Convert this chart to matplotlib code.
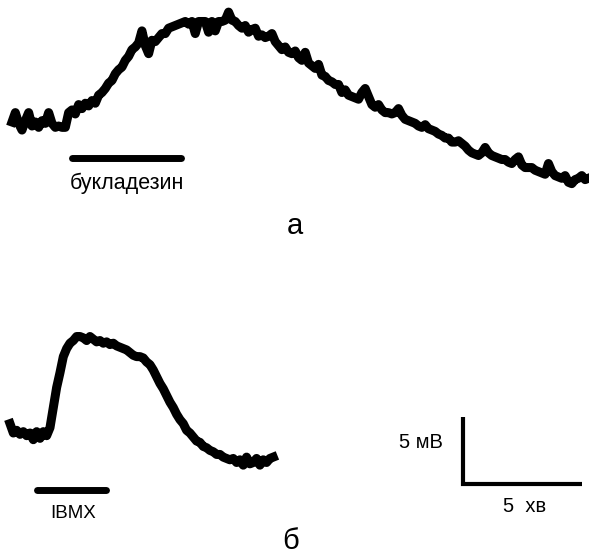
import numpy as np
import matplotlib.pyplot as plt

plt.rcParams['font.family'] = ['Liberation Sans', 'DejaVu Sans']

# --- membrane potential records ---
# sampling interval of both records, min
dt = 0.14

# record a: bucladesine, mV relative to resting level
v_a = [0.0, 0.7, -0.1, -0.6, 0.1, 0.7, -0.3, 0.0, -0.4, 0.1, -0.1, 0.7, -0.1, -0.4, -0.3, -0.4, -0.4,
       0.7, 0.9, 0.6, 1.3, 1.0, 1.4, 1.2, 1.6, 1.4, 2.0, 2.2, 2.5, 2.9,
       3.1, 3.6, 3.9, 4.1, 4.6, 4.9, 5.4, 5.6, 5.9,
       6.8, 5.7, 5.1, 6.1, 6.0, 6.3, 6.6, 6.6, 7.0, 7.1, 7.2, 7.3, 7.4,
       7.5, 7.3, 7.5, 6.6, 7.5, 7.5, 7.5, 6.7, 7.5, 6.8, 7.5, 7.5, 7.6, 8.2, 7.6, 7.5,
       7.2, 7.0, 7.2, 6.7, 6.9, 7.0, 6.4, 6.5, 6.3, 6.4, 6.6, 6.0, 5.7, 5.4, 5.6, 5.2, 5.1, 5.3, 4.8, 4.6,
       5.2, 4.4, 4.2, 4.0, 4.3, 3.5, 3.4, 3.1, 3.0, 2.8, 2.8, 2.2, 2.4, 2.0, 1.9, 1.8, 1.7,
       2.2, 2.5, 1.9, 1.3, 1.1, 1.3, 0.9, 0.7, 0.7, 0.6, 0.7, 1.0, 0.5, 0.2, 0.1, 0.0,
       -0.1, -0.3, -0.4, -0.2, -0.5, -0.6, -0.7, -0.9, -1.0, -1.2, -1.2, -1.5, -1.5, -1.4, -1.6, -1.8,
       -2.1, -2.3, -2.4, -2.5, -2.3, -1.9, -2.3, -2.5, -2.6, -2.7, -2.8, -2.8, -3.0, -3.1, -2.8, -2.6,
       -3.2, -3.4, -3.4, -3.4, -3.6, -3.7, -3.8, -3.9, -3.1, -3.7, -4.0, -4.1, -4.2, -4.0, -4.5, -4.6,
       -4.3, -4.2, -4.0, -4.3, -4.2]

# record b: IBMX
v_b = [0.7, 0.0, 0.2, -0.1, 0.1, -0.2, 0.0, -0.5, 0.1, -0.4, 0.1, -0.2, 0.4,
       1.9, 3.4, 4.5, 5.7, 6.3, 6.7, 6.9, 7.2, 7.2, 7.1,
       6.9, 7.2, 7.0, 6.8, 6.9, 6.7, 6.8, 6.6, 6.7, 6.5,
       6.4, 6.3, 6.2, 6.0, 5.8, 5.7, 5.7, 5.6, 5.3, 5.1,
       4.7, 4.2, 3.7, 3.3, 2.8, 2.3, 1.9, 1.4, 1.0, 0.7,
       0.2, 0.0, -0.3, -0.6, -0.7, -1.0, -1.1, -1.3, -1.4, -1.6,
       -1.6, -1.8, -1.9, -2.0, -1.9, -2.2, -2.0, -2.4, -1.8, -2.3,
       -2.2, -1.9, -2.4, -2.0, -2.2, -1.9, -1.8]

# drug application, min from start of each record
buclad_on, buclad_off = 2.52, 7.1
ibmx_on, ibmx_off = 1.13, 4.03

# calibration
scale_mv = 5
scale_min = 5

# --- layout (pixels of the 589x560 figure) ---
W, H = 589, 560
px_min = 23.8
px_mv = 13.4

def xd(px):
    return px / px_min

def yd(py):
    return -py / px_mv

fig = plt.figure(figsize=(W / 100, H / 100), dpi=100)
ax = fig.add_axes([0, 0, 1, 1])
ax.set_xlim(0, W / px_min)
ax.set_ylim(-H / px_mv, 0)
ax.axis('off')

t_a = np.arange(len(v_a)) * dt
t_b = np.arange(len(v_b)) * dt

# record a
x0, y0 = xd(12), yd(122)
ax.plot(t_a + x0, np.array(v_a) + y0, color='black', lw=6.5)
ax.plot([buclad_on + x0, buclad_off + x0], [yd(158)] * 2, color='black', lw=5,
        solid_capstyle='round')

# record b
x0, y0 = xd(10), yd(433)
ax.plot(t_b + x0, np.array(v_b) + y0, color='black', lw=6.5)
ax.plot([ibmx_on + x0, ibmx_off + x0], [yd(490)] * 2, color='black', lw=5,
        solid_capstyle='round')

# scale bar
cx, cy = xd(463), yd(484)
ax.plot([cx, cx, cx + scale_min], [cy + scale_mv, cy, cy], color='black', lw=3,
        solid_joinstyle='miter', solid_capstyle='butt')

def label(px, py, s, size):
    fig.text(px / W, 1 - py / H, s, ha='center', va='center', fontsize=size)

label(127, 183, 'букладезин', 15.5)
label(73, 513, 'IBMX', 13.5)
label(421, 442, '5 мВ', 14.5)
label(525, 506, '5  хв', 14.5)
label(295, 226, 'а', 21)
label(291, 541, 'б', 21)

fig.savefig('out.png', dpi=100)
